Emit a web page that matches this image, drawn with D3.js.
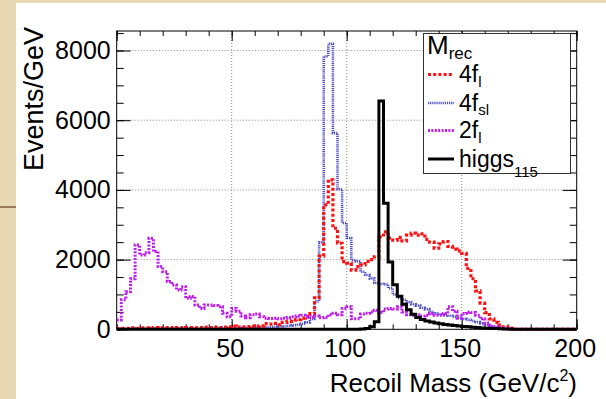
<!DOCTYPE html>
<html><head><meta charset="utf-8">
<script src="https://cdn.jsdelivr.net/npm/d3@7"></script>
<style>body{margin:0;background:#fff}svg{display:block}text{font-family:"Liberation Sans",Arial,sans-serif;fill:#000}</style>
</head><body><svg id="c" width="606" height="399"></svg>
<script>
// ---- data (2 GeV bins from 0 to 200) ----
const binWidth = 2;
const xTicks = [50, 100, 150, 200];
const yTicks = [0, 2000, 4000, 6000, 8000];
const seriesNames = ["4f_l", "4f_sl", "2f_l", "higgs_115"];
const fourFl = [20,30,30,40,30,40,40,30,50,40, 40,50,40,50,40,50,50,40,50,60, 50,60,50,60,70,90,60,70,80,90,
  80,100,160,150,170,130,200,230,270,280, 320,360,450,900,2100,3570,4290,2900,2470,1940,
  1900,1700,1800,1850,1950,2000,2080,2650,2800,2620, 2560,2640,2540,2700,2760,2700,2740,2580,2500,2330,
  2450,2520,2380,2300,2250,2180,1750,1450,1100,750, 480,300,200,120,70,30,0,0,0,0, 0,0,0,0,0,0,0,0,0,0];
const fourFsl = [10,20,20,30,20,30,20,30,30,20, 30,30,20,30,30,20,30,30,40,30, 30,40,30,40,30,40,40,30,40,50,
  40,50,60,60,70,80,90,100,120,130, 160,200,300,800,2500,7830,8190,5630,4020,3050,
  2620,1990,1950,1650,1560,1460,1330,1300,1290,1180, 1000,900,850,780,720,680,620,580,500,460,
  430,410,390,360,330,300,270,240,210,170, 130,80,50,30,15,5,0,0,0,0, 0,0,0,0,0,0,0,0,0,0];
const twoFl = [270,850,1080,1450,2420,2130,2200,2610,2230,1800, 1650,1370,1270,1130,1220,890,940,700,600,700,
  700,680,650,460,360,600,520,380,330,420, 440,360,320,310,320,300,320,340,360,380,
  400,370,340,380,330,340,420,460,420,600, 650,300,300,440,460,500,550,480,580,600,
  580,650,500,420,400,420,380,400,450,400, 400,450,650,520,320,450,500,480,400,300,
  180,90,70,40,15,0,0,0,0,0, 0,0,0,0,0,0,0,0,0,0];
const higgs = [0,0,0,0,0,0,0,0,0,0, 0,0,0,0,0,0,0,0,0,0, 0,0,0,0,0,0,0,0,0,0, 0,0,0,0,0,0,0,0,0,0,
  0,0,0,0,0,0,0,0,0,0, 0,0,5,10,25,70,220,6550,3620,1930,
  1280,950,720,560,430,340,280,240,210,180, 160,140,120,110,95,80,70,60,50,40,
  32,25,20,15,10,8,5,3,0,0, 0,0,0,0,0,0,0,0,0,0];

// ---- layout ----
const svg = d3.select("#c");
const L = 116.7, R = 576.7, T = 31, B = 329.3;
const x = d3.scaleLinear().domain([0, 200]).range([L, R]);
const y = d3.scaleLinear().domain([0, 8560]).range([B, T]);

svg.append("rect").attr("width", 606).attr("height", 399).attr("fill", "#e8d9b4");
svg.append("rect").attr("x", 16).attr("y", 3).attr("width", 590).attr("height", 396).attr("fill", "#fff");
svg.append("line").attr("x1", 0).attr("x2", 16).attr("y1", 207).attr("y2", 207).attr("stroke", "#9a7a58").attr("stroke-width", 2);

// grid
const grid = svg.append("g").attr("stroke", "#8a8a8a").attr("stroke-width", 1).attr("stroke-dasharray", "1,2");
[50, 100, 150].forEach(v => grid.append("line").attr("x1", x(v)).attr("x2", x(v)).attr("y1", T).attr("y2", B));
[2000, 4000, 6000, 8000].forEach(v => grid.append("line").attr("x1", L).attr("x2", R).attr("y1", y(v)).attr("y2", y(v)));

// axes
function clean(g){ g.select(".domain").remove(); g.selectAll(".tick line").attr("stroke","#000"); return g; }
const yMinor = d3.range(0, 8560, 500);
const xMinor = d3.range(0, 201, 10);
clean(svg.append("g").attr("transform", `translate(${L},0)`).call(d3.axisLeft(y).tickValues(yMinor).tickSize(-7).tickFormat("")));
clean(svg.append("g").attr("transform", `translate(${R},0)`).call(d3.axisRight(y).tickValues(yMinor).tickSize(-7).tickFormat("")));
clean(svg.append("g").attr("transform", `translate(${R},0)`).call(d3.axisRight(y).tickValues(yTicks).tickSize(-14).tickFormat("")));
const yAx = clean(svg.append("g").attr("transform", `translate(${L},0)`).call(d3.axisLeft(y).tickValues(yTicks).tickSize(-14).tickPadding(6).tickFormat(d3.format("d"))));
yAx.selectAll("text").attr("font-size", 25).attr("font-family", '"Liberation Sans",Arial,sans-serif').attr("fill", "#000");
clean(svg.append("g").attr("transform", `translate(0,${B})`).call(d3.axisBottom(x).tickValues(xMinor).tickSize(-5).tickFormat("")));
clean(svg.append("g").attr("transform", `translate(0,${T})`).call(d3.axisTop(x).tickValues(xMinor).tickSize(-5).tickFormat("")));
clean(svg.append("g").attr("transform", `translate(0,${T})`).call(d3.axisTop(x).tickValues([0,50,100,150,200]).tickSize(-10).tickFormat("")));
const xAx = clean(svg.append("g").attr("transform", `translate(0,${B})`).call(d3.axisBottom(x).tickValues(xTicks).tickSize(-10).tickPadding(10).tickFormat(d3.format("d"))));
xAx.selectAll("text").attr("font-size", 25).attr("font-family", '"Liberation Sans",Arial,sans-serif').attr("fill", "#000").attr("dx", -2);

// frame
svg.append("rect").attr("x", L).attr("y", T).attr("width", R - L).attr("height", B - T).attr("fill", "none").attr("stroke", "#000").attr("stroke-width", 1);

// histograms
svg.append("clipPath").attr("id", "clip").append("rect").attr("x", L).attr("y", T - 2).attr("width", R - L).attr("height", B - T + 4);
const line = d3.line().x(d => x(d[0])).y(d => y(d[1])).curve(d3.curveStepAfter);
function pts(arr){ const p = arr.map((v, i) => [i * binWidth, v]); p.push([arr.length * binWidth, arr[arr.length - 1]]); return p; }
const styles = {
  "4f_sl": {data: fourFsl, color: "#5050c8", w: 2.6, dash: "1.2,0.9"},
  "4f_l": {data: fourFl, color: "#ff1010", w: 3.2, dash: "3,2.2"},
  "2f_l": {data: twoFl, color: "#c01cf0", w: 3, dash: "2,1.4"},
  "higgs_115": {data: higgs, color: "#000", w: 3, dash: null}
};
const hg = svg.append("g").attr("clip-path", "url(#clip)");
["4f_sl", "4f_l", "2f_l", "higgs_115"].forEach(k => {
  const s = styles[k];
  hg.append("path").attr("d", line(pts(s.data))).attr("fill", "none").attr("stroke", s.color)
    .attr("stroke-width", s.w).attr("stroke-dasharray", s.dash).attr("stroke-linejoin", "miter");
});

// legend
const lg = svg.append("g");
lg.append("rect").attr("x", 423.5).attr("y", 33.5).attr("width", 147).attr("height", 140).attr("fill", "#fff").attr("stroke", "#333").attr("stroke-width", 1);
const t0 = lg.append("text").attr("x", 427).attr("y", 54).attr("font-size", 26).text("M");
t0.append("tspan").attr("font-size", 17).attr("dy", 5).text("rec");
const legRows = [
  {k: "4f_l", main: "4f", sub: "l", y: 82},
  {k: "4f_sl", main: "4f", sub: "sl", y: 110.5},
  {k: "2f_l", main: "2f", sub: "l", y: 138},
  {k: "higgs_115", main: "higgs", sub: "115", y: 166.5}
];
legRows.forEach(r => {
  const s = styles[r.k];
  lg.append("line").attr("x1", 428).attr("x2", 454).attr("y1", r.y - 7.5).attr("y2", r.y - 7.5)
    .attr("stroke", s.color).attr("stroke-width", s.w).attr("stroke-dasharray", s.dash);
  const t = lg.append("text").attr("x", 459).attr("y", r.y).attr("font-size", 23).text(r.main);
  t.append("tspan").attr("font-size", 15).attr("dy", r.sub === "115" ? 10 : 4.5).text(r.sub);
});

// axis titles
svg.append("text").attr("transform", "translate(43,27) rotate(-90)").attr("text-anchor", "end").attr("font-size", 27).text("Events/GeV");
const xt = svg.append("text").attr("x", 577).attr("y", 391.7).attr("text-anchor", "end").attr("font-size", 26).text("Recoil Mass (GeV/c");
xt.append("tspan").attr("font-size", 16).attr("dy", -11).text("2");
xt.append("tspan").attr("dy", 11).text(")");
</script></body></html>
